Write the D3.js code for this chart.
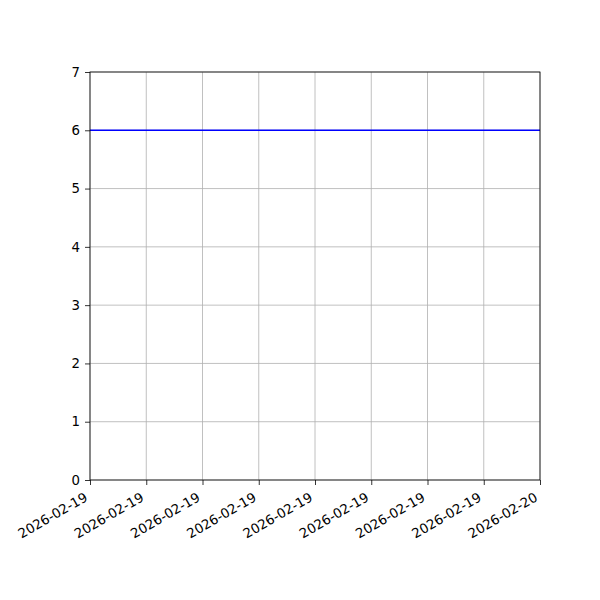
<!DOCTYPE html>
<html>
<head>
<meta charset="utf-8">
<script src="https://cdn.jsdelivr.net/npm/d3@7"></script>
<style>
body { margin: 0; background: #fff; }
svg text { font-family: "DejaVu Sans", sans-serif; font-size: 13.3px; fill: #000; }
</style>
</head>
<body>
<svg id="chart" width="600" height="600"></svg>
<script>
// series
const times = ["2026-02-19T00:00:00", "2026-02-20T00:00:00"];
const values = [6, 6];
const yTicks = [0, 1, 2, 3, 4, 5, 6, 7];
const xTickHours = [0, 3, 6, 9, 12, 15, 18, 21, 24];

const LEFT = 90, RIGHT = 540, TOP = 72, BOTTOM = 480;

const parse = d3.timeParse("%Y-%m-%dT%H:%M:%S");
const data = times.map((t, i) => ({ t: parse(t), v: values[i] }));

const x = d3.scaleTime()
	.domain([data[0].t, data[data.length - 1].t])
	.range([LEFT, RIGHT]);
const y = d3.scaleLinear()
	.domain([0, 7])
	.range([BOTTOM, TOP]);

const xTicks = xTickHours.map(h => d3.timeHour.offset(data[0].t, h));
const fmt = d3.timeFormat("%Y-%m-%d");

let svg = d3.select("svg#chart");

// grid
svg.append("g")
	.selectAll("line.vgrid")
	.data(xTicks)
	.join("line")
	.attr("x1", d => x(d)).attr("x2", d => x(d))
	.attr("y1", TOP).attr("y2", BOTTOM)
	.attr("stroke", "#b0b0b0")
	.attr("stroke-width", 0.8)
	;
svg.append("g")
	.selectAll("line.hgrid")
	.data(yTicks)
	.join("line")
	.attr("x1", LEFT).attr("x2", RIGHT)
	.attr("y1", d => y(d)).attr("y2", d => y(d))
	.attr("stroke", "#b0b0b0")
	.attr("stroke-width", 0.8)
	;

// line
svg.append("path")
	.datum(data)
	.attr("fill", "none")
	.attr("stroke", "#0000ff")
	.attr("stroke-width", 1.5)
	.attr("d", d3.line().x(d => x(d.t)).y(d => y(d.v)))
	;

// axes
const xAxis = svg.append("g")
	.attr("transform", `translate(0,${BOTTOM})`)
	.call(d3.axisBottom(x).tickValues(xTicks).tickFormat(fmt).tickSizeInner(5).tickSizeOuter(0));
xAxis.selectAll("text")
	.style("font-size", "13.3px")
	.attr("text-anchor", "end")
	.attr("x", 0)
	.attr("y", 0)
	.attr("dy", 0)
	.attr("transform", "translate(-2,20) rotate(-30)")
	;

const yAxis = svg.append("g")
	.attr("transform", `translate(${LEFT},0)`)
	.call(d3.axisLeft(y).tickValues(yTicks).tickFormat(d3.format("d")).tickSizeInner(5).tickSizeOuter(0).tickPadding(5));
yAxis.selectAll("text").style("font-size", "13.3px");

svg.selectAll(".domain").remove();
svg.selectAll(".tick line").attr("stroke", "#000").attr("stroke-width", 0.8);

// frame
svg.append("rect")
	.attr("x", LEFT).attr("y", TOP)
	.attr("width", RIGHT - LEFT).attr("height", BOTTOM - TOP)
	.attr("fill", "none")
	.attr("stroke", "#000")
	.attr("stroke-width", 0.8)
	;
</script>
</body>
</html>
